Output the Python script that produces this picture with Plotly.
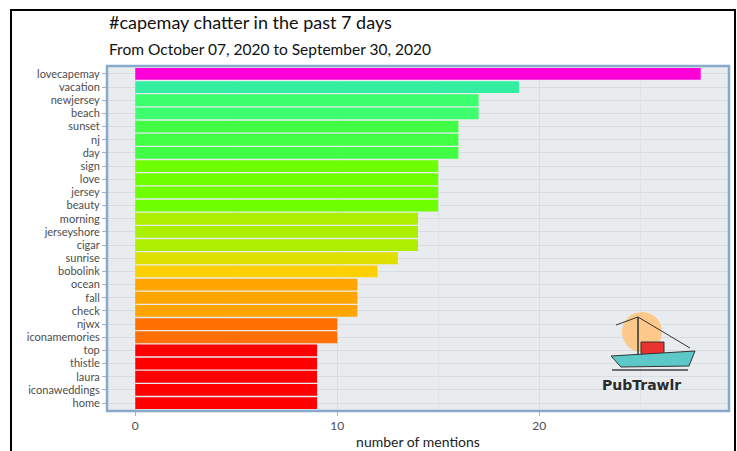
import plotly.graph_objects as go

terms = ["lovecapemay", "vacation", "newjersey", "beach", "sunset", "nj", "day",
         "sign", "love", "jersey", "beauty", "morning", "jerseyshore", "cigar",
         "sunrise", "bobolink", "ocean", "fall", "check", "njwx", "iconamemories",
         "top", "thistle", "laura", "iconaweddings", "home"]
mentions = [28, 19, 17, 17, 16, 16, 16, 15, 15, 15, 15, 14, 14, 14,
            13, 12, 11, 11, 11, 10, 10, 9, 9, 9, 9, 9]
bar_colors = ["#FF00D8", "#33EEA0", "#3DFF6E", "#3DFF6E", "#40FF45", "#40FF45", "#40FF45",
              "#6EFF00", "#6EFF00", "#6EFF00", "#6EFF00", "#ADEF00", "#ADEF00", "#ADEF00",
              "#DDE000", "#FFD000", "#FFA500", "#FFA500", "#FFA500", "#FF7000", "#FF7000",
              "#FF0000", "#FF0000", "#FF0000", "#FF0000", "#FF0000"]

W, H = 737, 451
ML, MR, MT, MB = 107, 8, 66, 40
PW, PH = W - ML - MR, H - MT - MB

def px(x):
    return (x - ML) / PW

def py(y):
    return (H - MB - y) / PH

fig = go.Figure(go.Bar(
    x=mentions, y=terms, orientation="h",
    marker=dict(color=bar_colors, line=dict(width=0)),
    width=0.9, hoverinfo="x+y",
))

font_family = "Lato, 'Open Sans', sans-serif"

fig.update_layout(
    width=W, height=H,
    margin=dict(l=ML, r=MR, t=MT, b=MB, autoexpand=False),
    paper_bgcolor="white",
    plot_bgcolor="#E9ECEF",
    font=dict(family=font_family, color="#4D4D4D"),
    showlegend=False,
    bargap=0.1,
    xaxis=dict(
        range=[-1.4, 29.4], tickvals=[0, 10, 20], ticktext=["0", "10", "20"],
        showgrid=True, gridcolor="#D8DDE2", gridwidth=1,
        minor=dict(tickvals=[5, 15, 25], showgrid=True, gridcolor="#DFE3E8", gridwidth=1),
        zeroline=False, ticks="outside", ticklen=4, tickcolor="#A9B3BD",
        tickfont=dict(size=12, color="#4D4D4D"),
        title=dict(text="number of mentions", font=dict(size=14, color="#222222"), standoff=4),
        automargin=False,
    ),
    yaxis=dict(
        categoryorder="array", categoryarray=terms[::-1],
        tickmode="array", tickvals=terms, ticktext=terms,
        range=[-0.6, len(terms) - 0.4],
        showgrid=True, gridcolor="#D8DDE2", gridwidth=1,
        zeroline=False, ticks="outside", ticklen=4, tickcolor="#A9B3BD",
        tickfont=dict(size=11, color="#4D4D4D"),
        automargin=False,
    ),
)

shapes = []
# panel border
shapes.append(dict(type="rect", xref="paper", yref="paper", x0=0, x1=1, y0=0, y1=1,
                   line=dict(color="#86A9CC", width=2.5), layer="above"))
# outer black frame
shapes.append(dict(type="rect", xref="paper", yref="paper",
                   x0=px(11), x1=px(735), y0=py(470), y1=py(10),
                   line=dict(color="black", width=2)))
# logo: sun
shapes.append(dict(type="circle", xref="paper", yref="paper",
                   x0=px(622), x1=px(662), y0=py(352), y1=py(312),
                   fillcolor="#FCC98A", line=dict(width=0), layer="above"))
# mast and rigging
shapes.append(dict(type="line", xref="paper", yref="paper",
                   x0=px(638), y0=py(356), x1=px(638), y1=py(317),
                   line=dict(color="#333333", width=1.5), layer="above"))
shapes.append(dict(type="line", xref="paper", yref="paper",
                   x0=px(638), y0=py(317), x1=px(616), y1=py(325),
                   line=dict(color="#333333", width=1), layer="above"))
shapes.append(dict(type="line", xref="paper", yref="paper",
                   x0=px(638), y0=py(317), x1=px(690), y1=py(348),
                   line=dict(color="#333333", width=1), layer="above"))
# cabin
shapes.append(dict(type="rect", xref="paper", yref="paper",
                   x0=px(641), x1=px(664), y0=py(356), y1=py(342),
                   fillcolor="#E8332F", line=dict(color="#333333", width=1), layer="above"))
# hull
shapes.append(dict(type="path", xref="paper", yref="paper",
                   path="M {} {} L {} {} L {} {} L {} {} Z".format(
                       px(611), py(356), px(695), py(351), px(689), py(366),
                       px(621), py(367)),
                   fillcolor="#5CC8C8", line=dict(color="#333333", width=1), layer="above"))
shapes.append(dict(type="line", xref="paper", yref="paper",
                   x0=px(612), y0=py(370), x1=px(688), y1=py(370),
                   line=dict(color="#444444", width=1.5), layer="above"))
fig.update_layout(shapes=shapes)

fig.add_annotation(x=px(641), y=py(385), xref="paper", yref="paper",
                   text="<b>PubTrawlr</b>", showarrow=False,
                   xanchor="center", yanchor="middle",
                   font=dict(size=14, color="#2B2B2B", family="'DejaVu Sans', sans-serif"))

fig.add_annotation(x=px(107), y=py(22), xref="paper", yref="paper",
                   text="#capemay chatter in the past 7 days", showarrow=False,
                   xanchor="left", yanchor="middle",
                   font=dict(size=18, color="#111111", family=font_family))
fig.add_annotation(x=px(107), y=py(49), xref="paper", yref="paper",
                   text="From October 07, 2020 to September 30, 2020", showarrow=False,
                   xanchor="left", yanchor="middle",
                   font=dict(size=15.5, color="#111111", family=font_family))

fig.write_html("out.html", config={"displayModeBar": False},
               post_script="document.body.style.margin='0';document.body.style.overflow='hidden';")
